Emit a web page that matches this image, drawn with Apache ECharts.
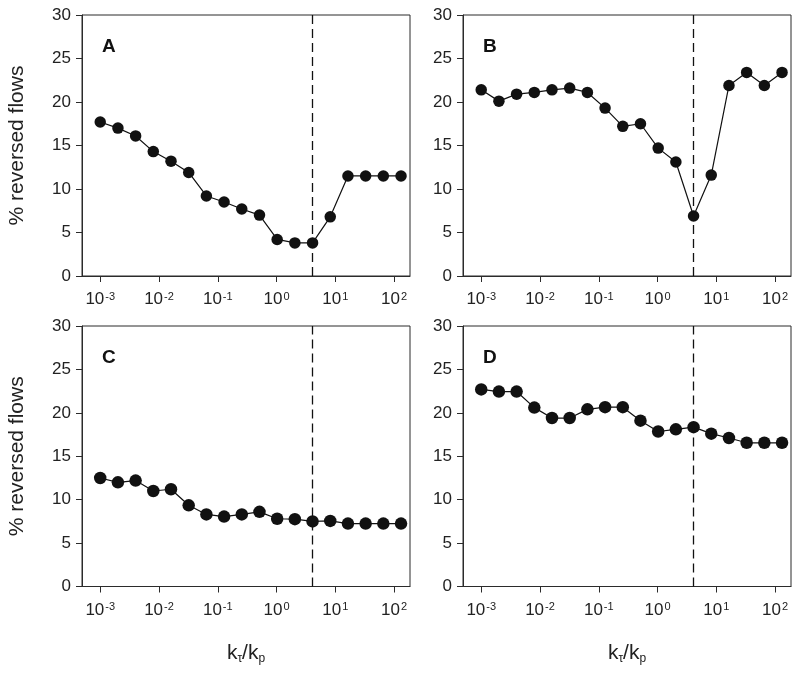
<!DOCTYPE html>
<html>
<head>
<meta charset="utf-8">
<script src="https://cdn.jsdelivr.net/npm/echarts@6/dist/echarts.min.js"></script>
<style>
html,body{margin:0;padding:0;background:#fff;}
#chart{width:800px;height:676px;}
</style>
</head>
<body>
<div id="chart"></div>
<script>
// k_tau / k_p ratios (x values)
var ratios = [0.001, 0.002, 0.004, 0.008, 0.016, 0.032, 0.064, 0.128, 0.256, 0.512, 1.024, 2.048, 4.096, 8.192, 16.384, 32.768, 65.536, 131.072];
// % reversed flows per panel
var panelA = [17.7, 17.0, 16.1, 14.3, 13.2, 11.9, 9.2, 8.5, 7.7, 7.0, 4.2, 3.8, 3.8, 6.8, 11.5, 11.5, 11.5, 11.5];
var panelB = [21.4, 20.1, 20.9, 21.1, 21.4, 21.6, 21.1, 19.3, 17.2, 17.5, 14.7, 13.1, 6.9, 11.6, 21.9, 23.4, 21.9, 23.4];
var panelC = [12.5, 12.0, 12.2, 11.0, 11.2, 9.35, 8.3, 8.05, 8.3, 8.6, 7.8, 7.75, 7.5, 7.55, 7.25, 7.25, 7.25, 7.25];
var panelD = [22.7, 22.45, 22.45, 20.6, 19.4, 19.4, 20.4, 20.65, 20.65, 19.1, 17.85, 18.1, 18.35, 17.6, 17.1, 16.55, 16.55, 16.55];
var panelLetters = ['A', 'B', 'C', 'D'];
var xTickValues = [0.001, 0.01, 0.1, 1, 10, 100];
var dashedAt = 4.096;
var yTicks = {min: 0, max: 30, interval: 5};

var FONT = '"Liberation Sans", Arial, Helvetica, sans-serif';
var AX = '#2b2b2b';
var chart = echarts.init(document.getElementById('chart'), null, {renderer: 'canvas'});

var grids = [
  {left: 82, top: 15, width: 328, height: 261},
  {left: 463, top: 15, width: 328, height: 261},
  {left: 82, top: 326, width: 328, height: 260.5},
  {left: 463, top: 326, width: 328, height: 260.5}
];
var allData = [panelA, panelB, panelC, panelD];
var sizes = [11.5, 11.5, 12.5, 12.5];

var xAxes = [], yAxes = [], series = [], graphics = [];
grids.forEach(function (g, i) {
  g.show = true; g.borderColor = AX; g.borderWidth = 1; g.containLabel = false;
  var bottom = i >= 2;
  xAxes.push({
    type: 'log', logBase: 10, gridIndex: i,
    min: Math.pow(10, -3.31), max: Math.pow(10, 2.27),
    name: bottom ? 'k{s|τ}/k{s|p}' : '',
    nameLocation: 'middle', nameGap: 56,
    nameTextStyle: {
      fontFamily: FONT, fontSize: 21, color: '#222',
      rich: {s: {fontFamily: FONT, fontSize: 12, color: '#222', verticalAlign: 'bottom', padding: [10, 0, 0, 0]}}
    },
    splitLine: {show: false}, minorTick: {show: false},
    axisLine: {show: true, onZero: false, lineStyle: {color: AX, width: 1}},
    axisTick: {show: true, inside: false, length: 6, lineStyle: {color: AX}, customValues: xTickValues},
    axisLabel: {
      show: true, margin: 15, customValues: xTickValues,
      fontFamily: FONT, fontSize: 17, color: '#222',
      formatter: function (v) {
        var e = Math.round(Math.log(v) / Math.LN10);
        return '{b|10}{sup|' + e + '}';
      },
      rich: {
        b: {fontFamily: FONT, fontSize: 17, color: '#222'},
        sup: {fontFamily: FONT, fontSize: 11, color: '#222', verticalAlign: 'top', padding: [0, 0, 5, 1]}
      }
    }
  });
  yAxes.push({
    type: 'value', gridIndex: i, min: yTicks.min, max: yTicks.max, interval: yTicks.interval,
    name: (i % 2 === 0) ? '% reversed flows' : '',
    nameLocation: 'middle', nameGap: 54, nameRotate: 90,
    nameTextStyle: {fontFamily: FONT, fontSize: 21, color: '#222'},
    splitLine: {show: false},
    axisLine: {show: true, onZero: false, lineStyle: {color: AX, width: 1}},
    axisTick: {show: true, inside: false, length: 6, lineStyle: {color: AX}},
    axisLabel: {show: true, margin: 11, fontFamily: FONT, fontSize: 17, color: '#222'}
  });
  var d = allData[i].map(function (v, k) { return [ratios[k], v]; });
  series.push({
    type: 'line', xAxisIndex: i, yAxisIndex: i, data: d,
    symbol: 'circle', symbolSize: sizes[i], showSymbol: true,
    itemStyle: {color: '#111'}, lineStyle: {color: '#111', width: 1.2},
    animation: false, silent: true,
    markLine: {
      silent: true, symbol: ['none', 'none'], animation: false,
      label: {show: false},
      lineStyle: {color: '#111', type: [9, 5], width: 1.3},
      data: [{xAxis: dashedAt}]
    }
  });
  graphics.push({
    type: 'text', left: g.left + 20, top: g.top + 22,
    style: {text: panelLetters[i], font: 'bold 19px ' + FONT, fill: '#111'}
  });
});

chart.setOption({
  animation: false,
  backgroundColor: '#fff',
  grid: grids,
  xAxis: xAxes,
  yAxis: yAxes,
  series: series,
  graphic: graphics
});
</script>
</body>
</html>
